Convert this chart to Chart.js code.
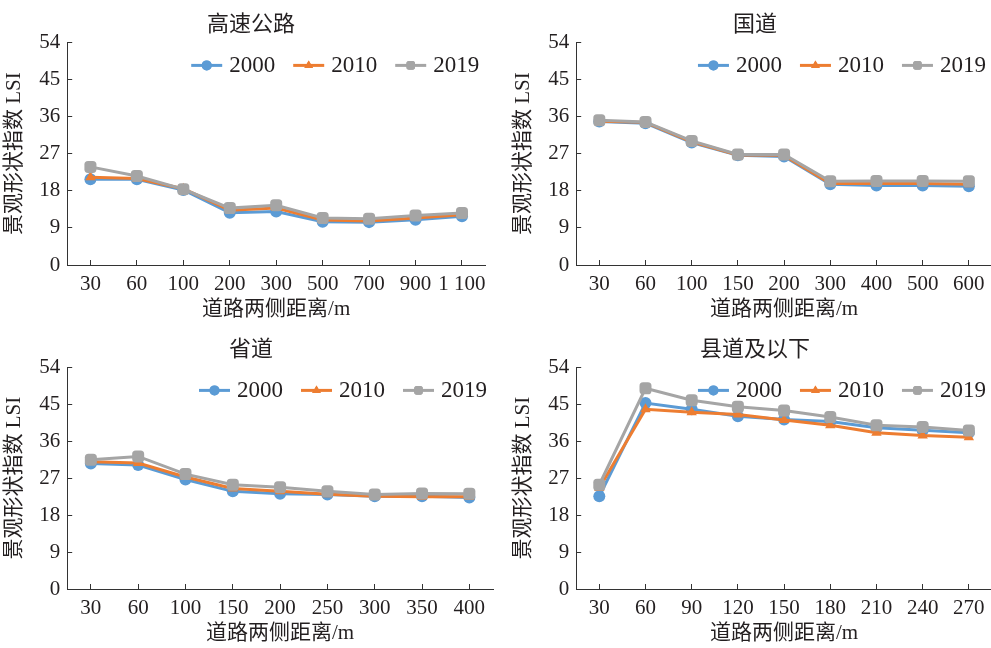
<!DOCTYPE html>
<html>
<head>
<meta charset="utf-8">
<script src="https://cdn.jsdelivr.net/npm/chart.js@4.4.1/dist/chart.umd.min.js"></script>
<style>
  body { margin: 0; background: #fff; overflow: hidden; }
  .box { position: absolute; }
</style>
</head>
<body>
<div class="box" style="left:0;top:0;width:500px;height:324px"><canvas id="c1"></canvas></div>
<div class="box" style="left:509px;top:0;width:490px;height:324px"><canvas id="c2"></canvas></div>
<div class="box" style="left:0;top:325px;width:500px;height:323px"><canvas id="c3"></canvas></div>
<div class="box" style="left:509px;top:325px;width:490px;height:323px"><canvas id="c4"></canvas></div>
<script>
const years = ["2000", "2010", "2019"];

// 高速公路
const hwLabels = ["30", "60", "100", "200", "300", "500", "700", "900", "1 100"];
const hw2000 = [20.8, 20.8, 18.2, 12.7, 13.0, 10.5, 10.4, 11.0, 11.8];
const hw2010 = [21.3, 21.0, 18.5, 13.3, 13.8, 10.9, 10.7, 11.4, 12.2];
const hw2019 = [23.8, 21.6, 18.4, 13.8, 14.5, 11.4, 11.2, 12.0, 12.6];

// 国道
const gdLabels = ["30", "60", "100", "150", "200", "300", "400", "500", "600"];
const gd2000 = [34.8, 34.4, 29.7, 26.6, 26.3, 19.6, 19.3, 19.3, 19.1];
const gd2010 = [34.9, 34.6, 29.9, 26.7, 26.6, 19.8, 19.8, 19.8, 19.6];
const gd2019 = [35.1, 34.7, 30.1, 26.8, 26.8, 20.3, 20.4, 20.4, 20.3];

// 省道
const sdLabels = ["30", "60", "100", "150", "200", "250", "300", "350", "400"];
const sd2000 = [30.6, 30.2, 26.7, 23.8, 23.2, 23.0, 22.6, 22.6, 22.3];
const sd2010 = [31.0, 30.7, 27.3, 24.5, 23.8, 23.1, 22.6, 22.5, 22.5];
const sd2019 = [31.5, 32.3, 28.0, 25.4, 24.8, 23.8, 23.0, 23.3, 23.2];

// 县道及以下
const xdLabels = ["30", "60", "90", "120", "150", "180", "210", "240", "270"];
const xd2000 = [22.6, 45.3, 43.8, 42.1, 41.3, 40.8, 39.3, 38.7, 38.1];
const xd2010 = [24.6, 43.8, 43.1, 42.5, 41.2, 39.9, 38.1, 37.4, 37.0];
const xd2019 = [25.4, 48.9, 46.0, 44.4, 43.5, 41.9, 39.9, 39.5, 38.6];

const colors = ["#5B9BD5", "#ED7D31", "#A5A5A5"];
const styles = ["circle", "triangle", "rectRounded"];
const radii = [6, 6, 7];
const txt = "#231f20";
const fontFam = "'Liberation Serif', 'Noto Sans CJK SC', serif";

// legend drawn by hand: line + marker, laid out in one row at the top right of the plot
const rowLegend = {
  id: "rowLegend",
  afterDatasetsDraw(chart) {
    const ctx = chart.ctx;
    const area = chart.chartArea;
    ctx.save();
    ctx.font = "23px " + fontFam;
    ctx.textBaseline = "middle";
    const iconW = 31, gap = 7, between = 18;
    const items = chart.data.datasets.map(ds => ({ ds, w: ctx.measureText(ds.label).width }));
    let total = 0;
    items.forEach((it, i) => { total += iconW + gap + it.w + (i ? between : 0); });
    let x = area.right - 6 - total;
    const y = area.top + 23;
    items.forEach((it, i) => {
      if (i) x += between;
      ctx.strokeStyle = it.ds.borderColor;
      ctx.fillStyle = it.ds.borderColor;
      ctx.lineWidth = 3;
      ctx.beginPath(); ctx.moveTo(x, y); ctx.lineTo(x + iconW, y); ctx.stroke();
      Chart.helpers.drawPoint(ctx, { pointStyle: it.ds.pointStyle, radius: 5, borderWidth: 0 }, x + iconW / 2, y);
      ctx.fill();
      x += iconW + gap;
      ctx.fillStyle = txt;
      ctx.fillText(it.ds.label, x, y + 1);
      x += it.w;
    });
    ctx.restore();
  }
};

function makeChart(id, title, labels, series) {
  new Chart(id, {
    type: "line",
    data: {
      labels: labels,
      datasets: series.map((d, i) => ({
        label: years[i],
        data: d,
        order: 3 - i,
        borderColor: colors[i],
        backgroundColor: colors[i],
        borderWidth: 3,
        pointStyle: styles[i],
        pointRadius: radii[i],
        pointBorderWidth: 0,
        tension: 0
      }))
    },
    plugins: [rowLegend],
    options: {
      responsive: true,
      maintainAspectRatio: false,
      animation: false,
      layout: { padding: { left: 2, right: 0, top: 2, bottom: 4 } },
      plugins: {
        title: {
          display: true, text: title, color: txt,
          font: { family: fontFam, size: 22, weight: "normal" },
          padding: { top: 10, bottom: 4 }
        },
        legend: { display: false },
        tooltip: { enabled: false }
      },
      scales: {
        x: {
          offset: true,
          grid: { display: true, drawOnChartArea: false, drawTicks: true, tickLength: -5, color: "#333", offset: false },
          border: { display: true, color: "#333", width: 1 },
          ticks: { color: txt, padding: 14, maxRotation: 0, autoSkip: false, font: { family: fontFam, size: 21, lineHeight: 1 } },
          title: { display: true, text: "道路两侧距离/m", color: txt, padding: { top: -10, bottom: 0 }, font: { family: fontFam, size: 21, lineHeight: 1 } }
        },
        y: {
          min: 0, max: 54,
          ticks: { stepSize: 9, color: txt, padding: 12, font: { family: fontFam, size: 21 } },
          grid: { display: true, drawOnChartArea: false, drawTicks: true, tickLength: -5, color: "#333" },
          border: { display: true, color: "#333", width: 1 },
          title: { display: true, text: "景观形状指数 LSI", color: txt, padding: { top: 0, bottom: 0 }, font: { family: fontFam, size: 21 } }
        }
      }
    }
  });
}

makeChart("c1", "高速公路", hwLabels, [hw2000, hw2010, hw2019]);
makeChart("c2", "国道", gdLabels, [gd2000, gd2010, gd2019]);
makeChart("c3", "省道", sdLabels, [sd2000, sd2010, sd2019]);
makeChart("c4", "县道及以下", xdLabels, [xd2000, xd2010, xd2019]);
</script>
</body>
</html>
